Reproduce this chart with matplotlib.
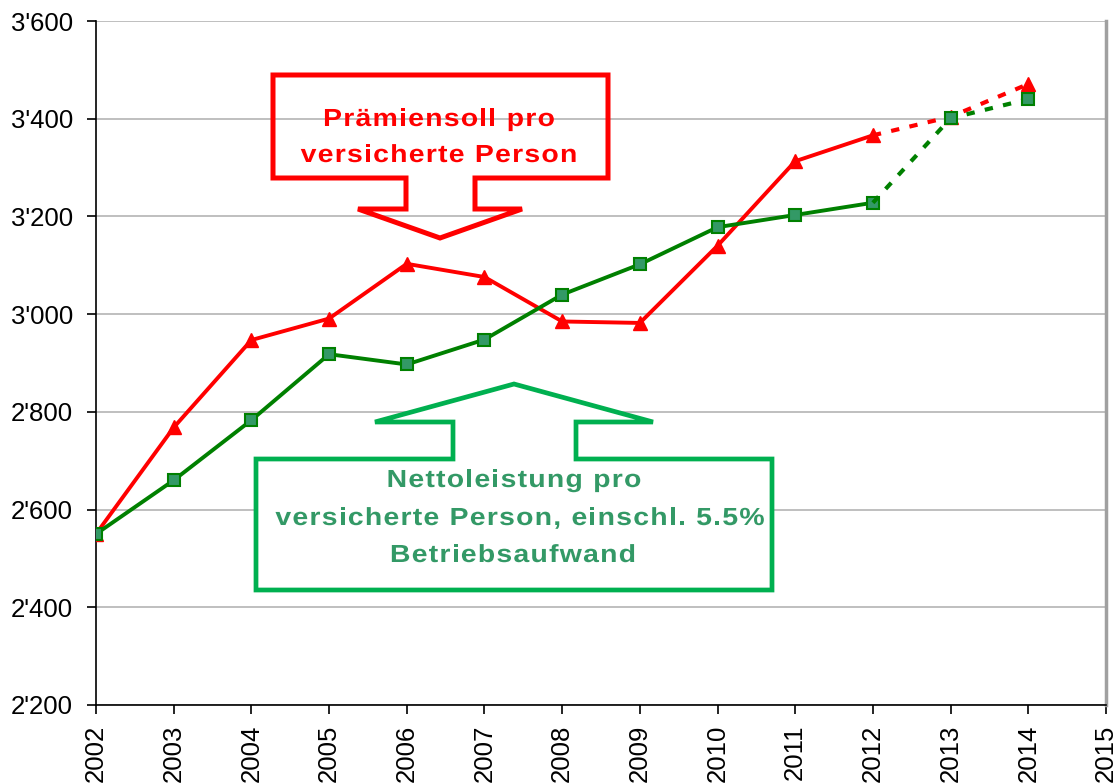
import matplotlib
matplotlib.use("Agg")
import matplotlib.pyplot as plt
from matplotlib.patches import Polygon
from matplotlib.ticker import FuncFormatter, MultipleLocator
from matplotlib import font_manager
from matplotlib.ft2font import FT2Font
from matplotlib.patheffects import AbstractPathEffect
from matplotlib.transforms import Affine2D

# ---- data ----
years = [2002, 2003, 2004, 2005, 2006, 2007, 2008, 2009, 2010, 2011, 2012, 2013, 2014]
praemiensoll = [2550, 2768, 2947, 2991, 3103, 3076, 2985, 2982, 3140, 3313, 3366, 3404, 3471]
nettoleistung = [2550, 2660, 2783, 2918, 2897, 2948, 3040, 3102, 3178, 3203, 3228, 3401, 3440]
n_actual = 11  # 2002..2012 solid, 2012..2014 dotted (forecast)

red_label = ["Prämiensoll pro", "versicherte Person"]
green_label = ["Nettoleistung pro", "versicherte Person, einschl. 5.5%", "Betriebsaufwand"]

W, H = 1116, 784
fig = plt.figure(figsize=(W / 100, H / 100), dpi=100)
ax = fig.add_axes([96 / W, 1 - 705 / H, (1106 - 96) / W, (705 - 21) / H])

RED = "#ff0000"
GREEN_LINE = "#008000"
GREEN_FACE = "#339966"
GREEN_BOX = "#00b050"
GREEN_TEXT = "#339966"

ax.set_xlim(2002, 2015)
ax.set_ylim(2200, 3600)
ax.yaxis.set_major_locator(MultipleLocator(200))
ax.xaxis.set_major_locator(MultipleLocator(1))
ax.yaxis.set_major_formatter(FuncFormatter(lambda v, p: f"{int(v)//1000}'{int(v)%1000:03d}"))
ax.grid(axis="y", color="#b4b4b4", lw=1.2)
ax.set_axisbelow(True)
ax.tick_params(axis="both", direction="out", length=6.5, width=1.2, color="black",
               labelsize=18.5)
ax.tick_params(axis="y", pad=10)
ax.tick_params(axis="x", labelrotation=90, pad=7.5)
for t in ax.get_xticklabels() + ax.get_yticklabels():
    t.set_fontfamily("Liberation Sans")
ax.spines["left"].set_color("black")
ax.spines["left"].set_linewidth(1.2)
ax.spines["bottom"].set_color("black")
ax.spines["bottom"].set_linewidth(1.2)
ax.spines["top"].set_visible(False)
ax.spines["right"].set_color("#a0a0a0")
ax.spines["right"].set_linewidth(2.5)

# solid parts
ax.plot(years[:n_actual], praemiensoll[:n_actual], color=RED, lw=2.8, zorder=3,
        marker="^", ms=10.5, mfc=RED, mec=RED)
ax.plot(years[:n_actual], nettoleistung[:n_actual], color=GREEN_LINE, lw=2.8, zorder=4,
        marker="s", ms=8, mfc=GREEN_FACE, mec=GREEN_LINE, mew=1.5)
# forecast parts
ax.plot(years[n_actual - 1:], praemiensoll[n_actual - 1:], color=RED, lw=3, zorder=3,
        ls=(0, (2, 2.5)))
ax.plot(years[n_actual:], praemiensoll[n_actual:], color=RED, lw=0, zorder=3,
        marker="^", ms=10.5, mfc=RED, mec=RED)
ax.plot(years[n_actual - 1:], nettoleistung[n_actual - 1:], color=GREEN_LINE, lw=3, zorder=4,
        ls=(0, (2, 2.5)))
ax.plot(years[n_actual:], nettoleistung[n_actual:], color=GREEN_LINE, lw=0, zorder=4,
        marker="s", ms=8, mfc=GREEN_FACE, mec=GREEN_LINE, mew=1.5)


def fp(x, y):
    return (x / W, 1 - y / H)


# red callout (transparent)
red_poly = [(273, 75), (608, 75), (608, 178), (475, 178), (475, 209), (522, 209),
            (440, 238), (358, 209), (406, 209), (406, 178), (273, 178)]
fig.patches.append(Polygon([fp(*p) for p in red_poly], closed=True, fill=False,
                           edgecolor=RED, lw=3.6, joinstyle="miter",
                           transform=fig.transFigure, zorder=10))
# green callout (white fill)
green_poly = [(256, 459), (453, 459), (453, 422), (375, 422), (514, 384), (653, 422),
              (576, 422), (576, 459), (772, 459), (772, 590), (256, 590)]
fig.patches.append(Polygon([fp(*p) for p in green_poly], closed=True, facecolor="white",
                           edgecolor=GREEN_BOX, lw=3.4, joinstyle="miter",
                           transform=fig.transFigure, zorder=10))


class HStretch(AbstractPathEffect):
    """Stretch glyphs horizontally about a display x position."""

    def __init__(self, x0, sx):
        super().__init__()
        self.x0 = x0
        self.sx = sx

    def draw_path(self, renderer, gc, tpath, affine, rgbFace=None):
        aff = affine + Affine2D().translate(-self.x0, 0).scale(self.sx, 1).translate(self.x0, 0)
        renderer.draw_path(gc, tpath, aff, rgbFace)


SIZE = 17.8
SX = 1.15
fpath = font_manager.findfont(font_manager.FontProperties(family="Liberation Sans", weight="bold"))
ft = FT2Font(fpath)
ft.set_size(SIZE, 100)


def adv(c):
    g = ft.load_char(ord(c))
    return g.linearHoriAdvance / 65536.0


def spaced_text(s, cx, base_y, color, spacing=1.2):
    advs = [adv(c) * SX for c in s]
    total = sum(advs) + spacing * (len(s) - 1)
    x = cx - total / 2
    for c, a in zip(s, advs):
        if c != " ":
            fig.text(x / W, 1 - base_y / H, c, fontsize=SIZE, fontweight="bold",
                     family="Liberation Sans", color=color, ha="left", va="baseline",
                     zorder=11, path_effects=[HStretch(x, SX)])
        x += a + spacing


spaced_text(red_label[0], 439, 126, RED)
spaced_text(red_label[1], 439, 162, RED)
spaced_text(green_label[0], 514, 487, GREEN_TEXT)
spaced_text(green_label[1], 520, 525, GREEN_TEXT)
spaced_text(green_label[2], 513, 562, GREEN_TEXT)

fig.savefig("out.png", dpi=100)
